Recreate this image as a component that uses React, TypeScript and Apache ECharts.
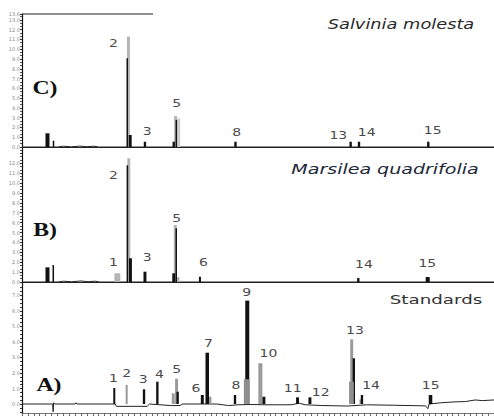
import React, { useEffect, useRef } from 'react';
import * as echarts from 'echarts';

// Retention time axis (min)
const TIME_MIN = 0;
const TIME_MAX = 40;

// Peaks: [retention time, height, peak width (min)]
// Panel C — Salvinia molesta
const C_GRAY = [[9.02, 112.9, 0.25], [13.02, 31.7, 0.25]];
const C_LIGHT = [[13.28, 29.4, 0.25]];
const C_BLACK = [
  [2.16, 14, 0.34], [2.67, 6.5, 0.13], [8.92, 90.8, 0.13], [9.17, 12.3, 0.25],
  [10.42, 5.4, 0.2], [12.86, 5.4, 0.2], [13.08, 27.6, 0.13], [18.09, 5.4, 0.2],
  [27.85, 5.4, 0.2], [28.56, 5.4, 0.2], [34.43, 5.4, 0.2],
];
const C_BASELINE = [[0, 0], [3.0, 0], [3.5, 0.8], [4.2, 0.2], [4.9, 0.9], [5.5, 0.3], [6.1, 0.8], [6.5, 0], [40, 0]];
const C_LABELS: [string, number, number][] = [
  ['2', 7.74, 106], ['3', 10.62, 15.7], ['5', 13.11, 44], ['8', 18.19, 14.6],
  ['13', 26.81, 11.3], ['14', 29.21, 15], ['15', 34.8, 16.7],
];

// Panel B — Marsilea quadrifolia
const B_GRAY = [[8.08, 8.8, 0.5], [9.05, 125, 0.25], [12.99, 57.6, 0.25], [13.22, 5, 0.25]];
const B_BLACK = [
  [2.16, 14.8, 0.34], [2.65, 17.2, 0.13], [8.93, 118, 0.13], [9.19, 24, 0.25],
  [10.42, 10.4, 0.25], [12.86, 8.8, 0.25], [13.07, 54.2, 0.13], [15.08, 5.4, 0.17],
  [28.5, 4, 0.2], [34.38, 5, 0.34],
];
const B_BASELINE = [[0, 0], [3.0, 0], [3.5, 0.8], [4.2, 0.3], [5.0, 1], [5.6, 0.3], [6.2, 0.8], [6.6, 0], [40, 0]];
const B_LABELS: [string, number, number][] = [
  ['1', 7.74, 19.5], ['2', 7.74, 107], ['3', 10.62, 24.9], ['5', 13.11, 64.3],
  ['6', 15.37, 19.5], ['14', 28.98, 17.2], ['15', 34.35, 18.2],
];

// Panel A — Standards
const A_GRAY = [
  [8.87, 12.3, 0.17], [12.82, 6.9, 0.25], [13.1, 16.3, 0.25], [15.93, 4.7, 0.25],
  [20.2, 26.3, 0.34], [27.94, 41.7, 0.25], [28.7, 3, 0.2],
];
const A_BLACK = [
  [7.82, 10.3, 0.17], [10.34, 9.5, 0.2], [11.47, 14.4, 0.2], [13.19, 7.9, 0.2],
  [15.28, 5.8, 0.25], [15.7, 33.1, 0.3], [18.05, 5.8, 0.2], [19.09, 66.7, 0.34],
  [20.5, 4.7, 0.25], [23.35, 4.3, 0.25], [24.4, 4.3, 0.25], [28.12, 29.5, 0.2],
  [28.81, 5.8, 0.2], [34.62, 5.8, 0.3],
];
const A_GRAY_FRONT = [[19.05, 16, 0.5], [27.92, 14.4, 0.4]];
const A_BASELINE = [
  [0, 0], [2.6, 0], [2.64, -5], [2.68, 0.8], [2.75, 0], [4.5, 0], [4.58, 0.8], [4.66, 0],
  [7.9, 0], [8.0, -1.5], [10.6, -1.5], [10.8, 0], [12.6, -1], [13.4, -1], [13.6, 0],
  [16.5, 0], [17.5, -1], [18.3, -0.5], [19.4, -0.3], [20.6, -0.5], [22.8, -0.5],
  [23.5, 0.5], [24.0, -0.5], [25.5, -1], [27.6, -1.3], [29.2, -0.5], [31.5, -0.8],
  [34.2, -1.2], [34.4, -3], [34.5, 0], [35.5, 0.8], [36.5, 1.3], [37.6, 1.6],
  [38.4, 2.6], [39.0, 2.2], [40, 2.6],
];
const A_LABELS: [string, number, number][] = [
  ['1', 7.74, 16.1], ['2', 8.87, 19.4], ['3', 10.28, 15.5], ['4', 11.64, 19.2],
  ['5', 13.11, 22.4], ['6', 14.75, 10.1], ['7', 15.79, 38.7], ['8', 18.14, 11.6],
  ['9', 19.04, 71.8], ['10', 20.88, 32.3], ['11', 22.94, 10.1], ['12', 25.31, 7.3],
  ['13', 28.22, 47.3], ['14', 29.58, 11.6], ['15', 34.63, 11.6],
];

const A_TICK_LABELS = [0, 10, 20, 30, 40, 50, 60, 70];
const A_TICKS = [-5, -2.5, 0, 2.5, 5, 7.5, 10, 12.5, 15, 17.5, 20, 22.5, 25, 27.5, 30, 32.5, 35, 37.5, 40, 42.5, 45, 47.5, 50, 52.5, 55, 57.5, 60, 62.5, 65, 67.5, 70, 72.5, 75];

const fmt = (v: number) => (v / 10).toFixed(1);

function peakSeries(idx: number, data: number[][], color: string, z: number) {
  return {
    type: 'custom',
    xAxisIndex: idx,
    yAxisIndex: idx,
    z,
    silent: true,
    data,
    renderItem: (params: any, api: any) => {
      const t = api.value(0);
      const h = api.value(1);
      const w = api.value(2);
      const top = api.coord([t, h]);
      const base = api.coord([t, 0]);
      const pw = Math.max(1, api.size([w, 0])[0]);
      return {
        type: 'rect',
        shape: { x: top[0] - pw / 2, y: top[1], width: pw, height: base[1] - top[1] },
        style: { fill: color },
      };
    },
  };
}

function baselineSeries(idx: number, data: number[][]) {
  return {
    type: 'line',
    xAxisIndex: idx,
    yAxisIndex: idx,
    z: 3,
    silent: true,
    showSymbol: false,
    data,
    lineStyle: { color: '#222', width: 1 },
  };
}

function labelSeries(idx: number, labels: [string, number, number][]) {
  return {
    type: 'custom',
    xAxisIndex: idx,
    yAxisIndex: idx,
    z: 10,
    silent: true,
    data: labels.map((l) => [l[1], l[2]]),
    renderItem: (params: any, api: any) => {
      const p = api.coord([api.value(0), api.value(1)]);
      return {
        type: 'text',
        x: p[0],
        y: p[1],
        scaleX: 1.4,
        style: {
          text: labels[params.dataIndex][0],
          fill: '#4a4a4a',
          font: '10px "DejaVu Sans"',
          align: 'center',
          verticalAlign: 'middle',
          textAlign: 'center',
          textVerticalAlign: 'middle',
        },
      };
    },
  };
}

function yAxisBase(idx: number) {
  return {
    gridIndex: idx,
    type: 'value',
    axisLine: { show: true, lineStyle: { color: '#111', width: 1.2 } },
    axisTick: { show: true, length: 2, lineStyle: { color: '#333' } },
    minorTick: { show: true, splitNumber: 3, length: 2, lineStyle: { color: '#555' } },
    splitLine: { show: false },
    axisLabel: { fontSize: 5, color: '#888', margin: 2, fontFamily: 'DejaVu Sans' },
  };
}

function xAxisBase(idx: number) {
  return {
    gridIndex: idx,
    type: 'value',
    min: TIME_MIN,
    max: TIME_MAX,
    axisLine: { show: true, onZero: false, lineStyle: { color: '#222', width: 1 } },
    axisTick: { show: false },
    axisLabel: { show: false },
    splitLine: { show: false },
  };
}

function textEl(text: string, x: number, y: number, font: string, scaleX: number, fill: string) {
  return {
    type: 'text',
    x,
    y,
    scaleX,
    z: 20,
    style: {
      text,
      font,
      fill,
      align: 'center',
      verticalAlign: 'middle',
      textAlign: 'center',
      textVerticalAlign: 'middle',
    },
  };
}

export default function App() {
  const ref = useRef<HTMLDivElement>(null);
  useEffect(() => {
    if (!ref.current) return;
    const chart = echarts.init(ref.current, undefined, { renderer: 'svg' });
    const grids = [
      { left: 22, width: 472, top: 14, height: 133 },
      { left: 22, width: 472, top: 147, height: 135 },
      { left: 22, width: 472, top: 282, height: 131 },
    ].map((g) => ({ ...g, outerBoundsMode: 'none', containLabel: false }));

    const option: any = {
      animation: false,
      backgroundColor: '#fff',
      grid: grids,
      xAxis: [
        xAxisBase(0),
        xAxisBase(1),
        {
          ...xAxisBase(2),
          interval: 0.5,
          axisLine: { show: true, onZero: false, lineStyle: { color: '#777', width: 1 } },
          axisTick: { show: true, length: 3, lineStyle: { color: '#666' } },
        },
      ],
      yAxis: [
        { ...yAxisBase(0), min: 0, max: 136, interval: 10, axisLabel: { ...yAxisBase(0).axisLabel, formatter: fmt } },
        {
          ...yAxisBase(1), min: 0, max: 136.4, interval: 10,
          axisLabel: { ...yAxisBase(1).axisLabel, formatter: (v: number) => (v > 125 ? '' : fmt(v)) },
        },
        {
          ...yAxisBase(2), min: -5.8, max: 78.7,
          axisTick: { show: true, length: 2, customValues: A_TICKS, lineStyle: { color: '#333' } },
          minorTick: { show: false },
          axisLabel: { ...yAxisBase(2).axisLabel, customValues: A_TICK_LABELS, formatter: fmt },
        },
      ],
      series: [
        baselineSeries(0, C_BASELINE),
        peakSeries(0, C_GRAY, '#b4b4b4', 4),
        peakSeries(0, C_LIGHT, '#cfcfcf', 4),
        peakSeries(0, C_BLACK, '#111', 5),
        labelSeries(0, C_LABELS),

        baselineSeries(1, B_BASELINE),
        peakSeries(1, B_GRAY, '#b4b4b4', 4),
        peakSeries(1, B_BLACK, '#111', 5),
        labelSeries(1, B_LABELS),

        baselineSeries(2, A_BASELINE),
        peakSeries(2, A_GRAY, '#9a9a9a', 4),
        peakSeries(2, A_BLACK, '#111', 5),
        peakSeries(2, A_GRAY_FRONT, '#8e8e8e', 6),
        labelSeries(2, A_LABELS),
      ],
      graphic: [
        { type: 'line', z: 20, shape: { x1: 22, y1: 14, x2: 153, y2: 14 }, style: { stroke: '#222', lineWidth: 1 } },
        textEl('C)', 45, 88, 'bold 19px "Liberation Serif"', 1.25, '#111'),
        textEl('B)', 45, 230, 'bold 19px "Liberation Serif"', 1.25, '#111'),
        textEl('A)', 49, 385, 'bold 19px "Liberation Serif"', 1.25, '#111'),
        textEl('Salvinia molesta', 401, 24, 'italic 14px "DejaVu Sans"', 1.27, '#2a2a2a'),
        textEl('Marsilea quadrifolia', 385, 169, 'italic 14px "DejaVu Sans"', 1.36, '#22283a'),
        textEl('Standards', 436, 300, '12.5px "DejaVu Sans"', 1.46, '#333'),
      ],
    };
    chart.setOption(option);
    return () => chart.dispose();
  }, []);
  return (
    <div
      ref={ref}
      style={{ position: 'fixed', left: 0, top: 0, width: 494, height: 418, background: '#fff' }}
    />
  );
}
